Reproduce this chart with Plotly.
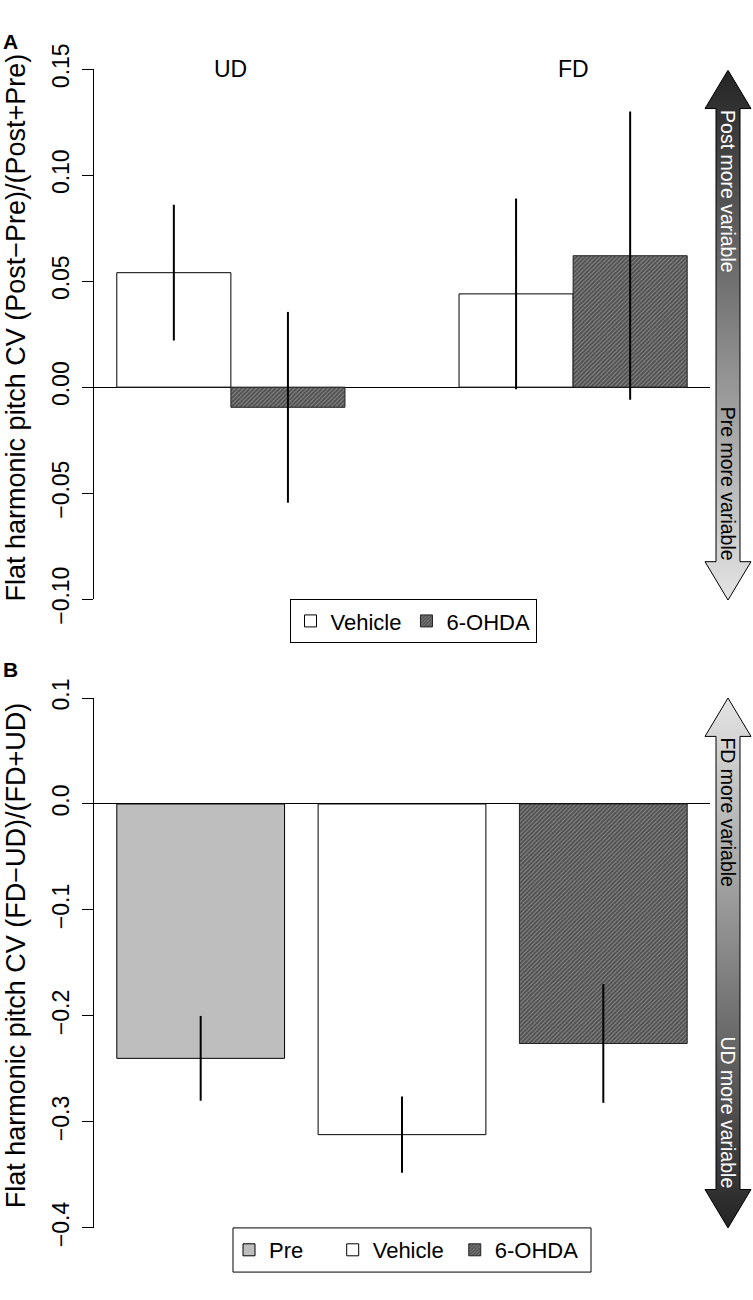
import plotly.graph_objects as go

# ---------------- data ----------------
groups_A = ["UD", "FD"]
vehicle_A = [0.054, 0.044]
vehicle_A_se = [0.032, 0.045]
ohda_A = [-0.0095, 0.062]
ohda_A_se = [0.045, 0.068]

conditions_B = ["Pre", "Vehicle", "6-OHDA"]
values_B = [-0.240, -0.312, -0.226]
se_B = [0.040, 0.036, 0.056]

ticks_A = [-0.10, -0.05, 0.00, 0.05, 0.10, 0.15]
ticks_B = [-0.4, -0.3, -0.2, -0.1, 0.0, 0.1]

# ---------------- layout helpers ----------------
W, H = 753, 1300
FONT = "Liberation Sans, Arial, sans-serif"


def px_x(p):
    return p / W


def px_y(p):
    return 1 - p / H


PLOT_L, PLOT_R = 94, 710
A_TOP, A_BOT = 45, 597
B_TOP, B_BOT = 700, 1252
ARROW_L, ARROW_R = 700, 753
ARROW_LEN = A_BOT - A_TOP

fig = go.Figure()

white = dict(color="white", line=dict(color="black", width=1))
hatch = dict(color="#4a4a4a", line=dict(color="#222222", width=1),
             pattern=dict(shape="/", fgcolor="#151515", bgcolor="#858585",
                          size=3, solidity=0.6, fillmode="overlay"))
grey = dict(color="#bebebe", line=dict(color="black", width=1))
err = lambda a: dict(type="data", array=a, visible=True, width=0,
                     thickness=2, color="black")

# Panel A
fig.add_trace(go.Bar(x=groups_A, y=vehicle_A, error_y=err(vehicle_A_se),
                     width=1 / 3, offset=-1 / 3, marker=white, name="Vehicle",
                     xaxis="x", yaxis="y", legend="legend"))
fig.add_trace(go.Bar(x=groups_A, y=ohda_A, error_y=err(ohda_A_se),
                     width=1 / 3, offset=0, marker=hatch, name="6-OHDA",
                     xaxis="x", yaxis="y", legend="legend"))

# Panel B (legend names padded with no-break spaces to mimic R's legend spacing)
b_styles = [grey, white, hatch]
b_pad = [4, 1, 0]
for c, v, s, st, pad in zip(conditions_B, values_B, se_B, b_styles, b_pad):
    fig.add_trace(go.Bar(x=[c], y=[v], error_y=err([s]), width=1 / 1.2,
                         marker=st, name=c + "\u00a0" * pad, xaxis="x2", yaxis="y2",
                         legend="legend2"))


# Gradient arrows
def arrow(xaxis, yaxis, dark_top):
    cx = (705 + 751) / 2
    hw, sw, hh = 23, 12, 40
    L = ARROW_LEN
    xs = [cx, cx + hw, cx + sw, cx + sw, cx + hw, cx, cx - hw, cx - sw, cx - sw, cx - hw, cx]
    ys = [L, L - hh, L - hh, hh, hh, 0, hh, hh, L - hh, L - hh, L]
    light, dark = "#e4e4e4", "#242424"
    cs = [[0, light], [1, dark]] if dark_top else [[0, dark], [1, light]]
    fig.add_trace(go.Scatter(x=xs, y=ys, mode="lines", fill="toself",
                             line=dict(color="black", width=1),
                             fillgradient=dict(type="vertical", colorscale=cs),
                             xaxis=xaxis, yaxis=yaxis, showlegend=False,
                             hoverinfo="skip"))


arrow("x3", "y3", True)
arrow("x4", "y4", False)

yax = dict(showline=True, linecolor="black", linewidth=1, ticks="outside",
           ticklen=11, tickcolor="black", tickwidth=1, showgrid=False,
           zeroline=True, zerolinecolor="black", zerolinewidth=1,
           tickangle=-90, tickfont=dict(family=FONT, size=23, color="black"),
           ticklabelstandoff=4)
xax = dict(showline=False, showticklabels=False, ticks="", showgrid=False,
           zeroline=False)
arrx = dict(showline=False, showticklabels=False, ticks="", showgrid=False,
            zeroline=False, range=[ARROW_L, ARROW_R], fixedrange=True)
arry = dict(showline=False, showticklabels=False, ticks="", showgrid=False,
            zeroline=False, range=[0, ARROW_LEN], fixedrange=True)

leg = dict(orientation="h",
           font=dict(family=FONT, size=22, color="black"),
           traceorder="normal")

fig.update_layout(
    width=W, height=H, autosize=False,
    margin=dict(l=0, r=0, t=0, b=0),
    paper_bgcolor="white", plot_bgcolor="rgba(0,0,0,0)",
    barmode="overlay",
    font=dict(family=FONT, color="black"),
    xaxis=dict(xax, domain=[px_x(PLOT_L), px_x(PLOT_R)], range=[-0.4, 1.4]),
    yaxis=dict(yax, domain=[px_y(A_BOT), px_y(A_TOP)], range=[-0.10, 0.15],
               tickvals=ticks_A, tickformat=".2f"),
    xaxis2=dict(xax, domain=[px_x(PLOT_L), px_x(PLOT_R)], range=[-0.53, 2.53]),
    yaxis2=dict(yax, domain=[px_y(B_BOT), px_y(B_TOP)], range=[-0.4, 0.1],
                tickvals=ticks_B, tickformat=".1f"),
    xaxis3=dict(arrx, domain=[px_x(ARROW_L), 1]),
    yaxis3=dict(arry, domain=[px_y(A_BOT + 1), px_y(A_TOP + 1)]),
    xaxis4=dict(arrx, domain=[px_x(ARROW_L), 1]),
    yaxis4=dict(arry, domain=[px_y(B_BOT), px_y(B_TOP)]),
    legend=dict(leg, x=px_x(413), y=px_y(597), xanchor="center", yanchor="top",
                bordercolor="black", borderwidth=1, bgcolor="white"),
    legend2=dict(leg, x=px_x(229), y=px_y(1275), xanchor="left", yanchor="middle",
                 borderwidth=0, bgcolor="rgba(0,0,0,0)"),
    showlegend=True,
    shapes=[dict(type="rect", xref="paper", yref="paper",
                 x0=px_x(233), x1=px_x(591), y0=px_y(1298), y1=px_y(1252),
                 line=dict(color="black", width=1), layer="below")],
)

ann = []
# panel labels
ann.append(dict(text="<b>A</b>", x=px_x(1), y=px_y(2), xref="paper", yref="paper",
                xanchor="left", yanchor="top", showarrow=False,
                font=dict(family=FONT, size=21, color="black")))
ann.append(dict(text="<b>B</b>", x=px_x(1), y=px_y(656), xref="paper", yref="paper",
                xanchor="left", yanchor="top", showarrow=False,
                font=dict(family=FONT, size=21, color="black")))
# y titles
ann.append(dict(text="Flat harmonic pitch CV (Post\u2212Pre)/(Post+Pre)",
                x=px_x(16), y=px_y(314), xref="paper", yref="paper",
                textangle=-90, showarrow=False, xanchor="center", yanchor="middle",
                font=dict(family=FONT, size=27, color="black")))
ann.append(dict(text="Flat harmonic pitch CV (FD\u2212UD)/(FD+UD)",
                x=px_x(16), y=px_y(968), xref="paper", yref="paper",
                textangle=-90, showarrow=False, xanchor="center", yanchor="middle",
                font=dict(family=FONT, size=27, color="black")))
# group labels
for g in groups_A:
    ann.append(dict(text=g, x=g, y=0.15, xref="x", yref="y", showarrow=False,
                    xanchor="center", yanchor="middle",
                    font=dict(family=FONT, size=23, color="black")))
# arrow texts
cx = (705 + 751) / 2
arrow_txt = [
    ("Post more variable", "x3", "y3", ARROW_LEN - 40, "top", "white"),
    ("Pre more variable", "x3", "y3", 40, "bottom", "black"),
    ("FD more variable", "x4", "y4", ARROW_LEN - 40, "top", "black"),
    ("UD more variable", "x4", "y4", 40, "bottom", "white"),
]
for t, xr, yr, yy, ya, col in arrow_txt:
    ann.append(dict(text=t, x=cx, y=yy, xref=xr, yref=yr, showarrow=False,
                    textangle=90, xanchor="center", yanchor=ya, borderpad=0,
                    font=dict(family=FONT, size=19.5, color=col)))

fig.update_layout(annotations=ann)

fig.write_html(
    "out.html",
    config={"displayModeBar": False},
    post_script="document.body.style.margin='0';document.body.style.overflow='hidden';",
)
